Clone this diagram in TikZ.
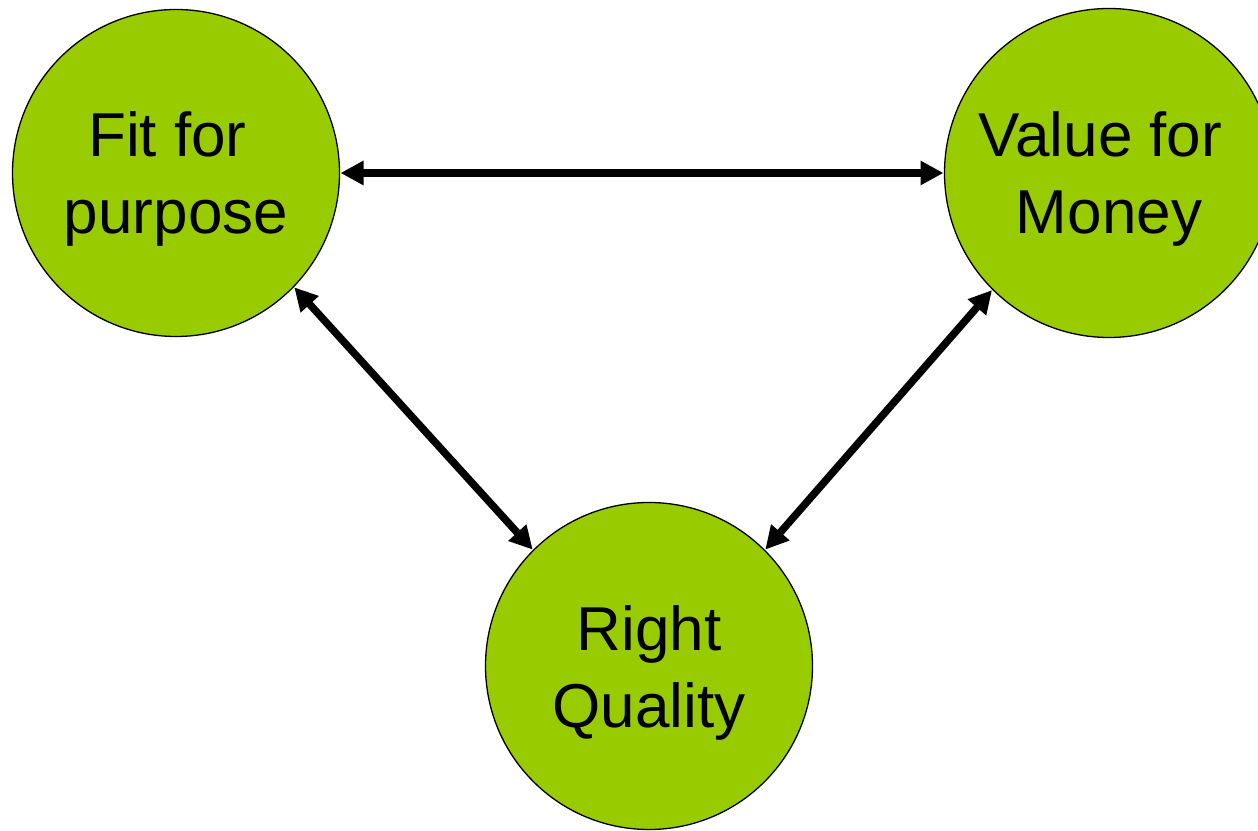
\documentclass[tikz,border=0pt]{standalone}
\usepackage{fontspec}
\setmainfont{Liberation Sans}
\usetikzlibrary{arrows.meta}
\definecolor{leaf}{HTML}{99CC00}
\begin{document}
\begin{tikzpicture}[x=1pt,y=1pt,
  bubble/.style={circle,draw=black,line width=1.3pt,fill=leaf,minimum size=327pt,inner sep=0pt,outer sep=0pt},
  words/.style={align=center,inner sep=0pt,font=\fontsize{62}{77}\selectfont},
  link/.style={line width=7.5pt,{Triangle[length=23pt,width=23pt]}-{Triangle[length=23pt,width=23pt]},shorten <=1pt,shorten >=1pt}]
\useasboundingbox (0,0) rectangle (1258,830);
\node[bubble] (L) at (176,657) {};
\node[bubble,minimum size=329pt] (R) at (1109,657) {};
\node[bubble] (B) at (649,164) {};
\node[words] (Lt) at ([yshift=-6pt]L.center) {Fit for\hspace*{0.278em}\\purpose};
\node[words] (Rt) at ([yshift=-6pt]R.center) {Value for\hspace*{0.278em}\\Money};
\node[words] (Bt) at ([yshift=-7pt]B.center) {Right\\Quality};
\draw[link] (L.east) -- (R.west);
\draw[link] (L.-44) -- (B.135);
\draw[link] (R.-135) -- (B.45);
\end{tikzpicture}
\end{document}
